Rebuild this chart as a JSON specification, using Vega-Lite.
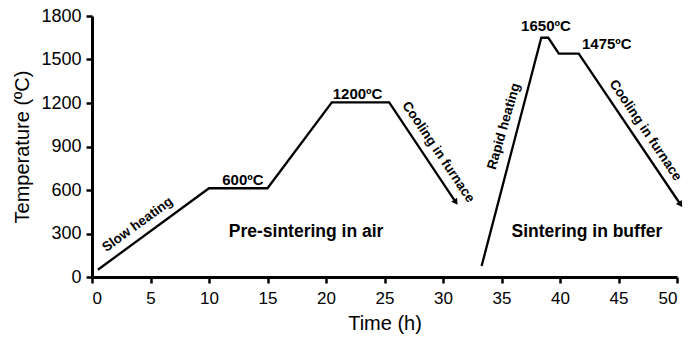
{
  "$schema": "https://vega.github.io/schema/vega-lite/v6.json",
  "width": 585,
  "height": 261,
  "autosize": {"type": "none"},
  "padding": {"left": 92, "top": 16, "right": 21, "bottom": 71},
  "background": "white",
  "config": {"view": {"stroke": null}, "font": "Liberation Sans"},
  "datasets": {
    "profile": [
      {"stage": "pre", "t": 0.5, "T": 50},
      {"stage": "pre", "t": 10, "T": 612},
      {"stage": "pre", "t": 15, "T": 612},
      {"stage": "pre", "t": 20.5, "T": 1205},
      {"stage": "pre", "t": 25.4, "T": 1205},
      {"stage": "pre", "t": 31.1, "T": 515},
      {"stage": "sint", "t": 33.3, "T": 76},
      {"stage": "sint", "t": 38.4, "T": 1650},
      {"stage": "sint", "t": 39.0, "T": 1650},
      {"stage": "sint", "t": 39.9, "T": 1540},
      {"stage": "sint", "t": 41.6, "T": 1540},
      {"stage": "sint", "t": 50.3, "T": 500}
    ],
    "tips": [
      {"stage": "pre", "t": 31.1, "T": 515},
      {"stage": "sint", "t": 50.3, "T": 500}
    ],
    "flat": [
      {"label": "600ºC", "t": 12.9, "T": 672},
      {"label": "1200ºC", "t": 22.7, "T": 1262},
      {"label": "1650ºC", "t": 38.8, "T": 1733},
      {"label": "1475ºC", "t": 44.0, "T": 1605}
    ],
    "stages": [
      {"label": "Pre-sintering in air", "t": 18.3, "T": 310},
      {"label": "Sintering in buffer", "t": 42.3, "T": 310}
    ],
    "slow": [{"label": "Slow heating", "t": 3.9, "T": 362}],
    "rapid": [{"label": "Rapid heating", "t": 35.2, "T": 1039}],
    "cool": [
      {"label": "Cooling in furnace", "t": 29.6, "T": 862},
      {"label": "Cooling in furnace", "t": 47.3, "T": 1012}
    ]
  },
  "layer": [
    {
      "data": {"name": "profile"},
      "mark": {"type": "line", "color": "black", "strokeWidth": 2.3, "clip": false},
      "encoding": {
        "x": {"field": "t", "type": "quantitative",
          "scale": {"domain": [0, 50], "nice": false},
          "axis": {"title": "Time (h)", "values": [0,5,10,15,20,25,30,35,40,45,50],
            "grid": false, "domainColor": "black", "domainWidth": 3, "tickColor": "black", "tickWidth": 2.5, "tickSize": 6,
            "labelFont": "Liberation Sans", "labelFontSize": 17, "labelColor": "black", "labelPadding": 7,
            "titleFont": "Liberation Sans", "titleFontSize": 20, "titleFontWeight": "normal", "titleColor": "black", "titlePadding": 7}},
        "y": {"field": "T", "type": "quantitative",
          "scale": {"domain": [0, 1800], "nice": false},
          "axis": {"title": "Temperature (ºC)", "values": [0,300,600,900,1200,1500,1800], "format": "d",
            "grid": false, "domainColor": "black", "domainWidth": 3, "tickColor": "black", "tickWidth": 2.5, "tickSize": 6,
            "labelFont": "Liberation Sans", "labelFontSize": 18, "labelColor": "black", "labelPadding": 5,
            "titleFont": "Liberation Sans", "titleFontSize": 20, "titleFontWeight": "normal", "titleColor": "black", "titlePadding": 8}},
        "detail": {"field": "stage"}
      }
    },
    {
      "data": {"name": "tips"},
      "mark": {"type": "point", "shape": "triangle-right", "filled": true, "color": "black", "size": 50, "angle": 56, "opacity": 1, "clip": false},
      "encoding": {
        "x": {"field": "t", "type": "quantitative"},
        "y": {"field": "T", "type": "quantitative"}
      }
    },
    {
      "data": {"name": "flat"},
      "mark": {"type": "text", "font": "Liberation Sans", "fontSize": 15, "fontWeight": "bold", "color": "black", "align": "center", "baseline": "middle"},
      "encoding": {
        "x": {"field": "t", "type": "quantitative"},
        "y": {"field": "T", "type": "quantitative"},
        "text": {"field": "label"}
      }
    },
    {
      "data": {"name": "stages"},
      "mark": {"type": "text", "font": "Liberation Sans", "fontSize": 17.5, "fontWeight": "bold", "color": "black", "align": "center", "baseline": "middle"},
      "encoding": {
        "x": {"field": "t", "type": "quantitative"},
        "y": {"field": "T", "type": "quantitative"},
        "text": {"field": "label"}
      }
    },
    {
      "data": {"name": "slow"},
      "mark": {"type": "text", "font": "Liberation Sans", "fontSize": 13.5, "fontWeight": "bold", "color": "black", "align": "center", "baseline": "middle", "angle": -36},
      "encoding": {
        "x": {"field": "t", "type": "quantitative"},
        "y": {"field": "T", "type": "quantitative"},
        "text": {"field": "label"}
      }
    },
    {
      "data": {"name": "rapid"},
      "mark": {"type": "text", "font": "Liberation Sans", "fontSize": 13.5, "fontWeight": "bold", "color": "black", "align": "center", "baseline": "middle", "angle": -74},
      "encoding": {
        "x": {"field": "t", "type": "quantitative"},
        "y": {"field": "T", "type": "quantitative"},
        "text": {"field": "label"}
      }
    },
    {
      "data": {"name": "cool"},
      "mark": {"type": "text", "font": "Liberation Sans", "fontSize": 13.5, "fontWeight": "bold", "color": "black", "align": "center", "baseline": "middle", "angle": 56},
      "encoding": {
        "x": {"field": "t", "type": "quantitative"},
        "y": {"field": "T", "type": "quantitative"},
        "text": {"field": "label"}
      }
    }
  ]
}
